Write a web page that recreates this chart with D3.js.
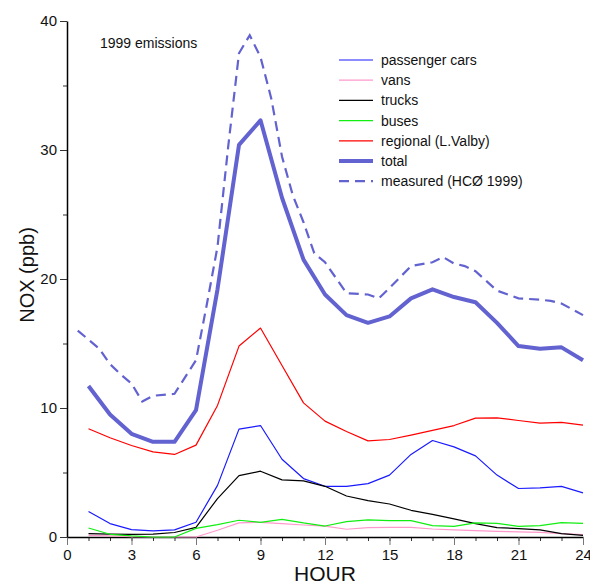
<!DOCTYPE html>
<html>
<head>
<meta charset="utf-8">
<script src="https://cdn.jsdelivr.net/npm/d3@7"></script>
<style>
  body { margin: 0; background: #fff; }
  svg text { font-family: "Liberation Sans", Arial, sans-serif; fill: #111; }
</style>
</head>
<body>
<svg class="chart" width="590" height="583"></svg>
<script>
// hours 1..24 for the modelled contributions
let hours = d3.range(1, 25);
let passengerCars = [1.97, 1.04, 0.57, 0.47, 0.55, 1.14, 4.0, 8.36, 8.64, 6.03, 4.53, 3.93,
                     3.93, 4.14, 4.8, 6.4, 7.48, 6.99, 6.29, 4.8, 3.76, 3.81, 3.93, 3.42];
let vans = [0.13, 0.08, 0.03, 0.0, 0.0, 0.0, 0.52, 1.09, 1.14, 1.04, 0.93, 0.85,
            0.6, 0.73, 0.75, 0.75, 0.62, 0.55, 0.5, 0.44, 0.39, 0.36, 0.26, 0.18];
let trucks = [0.26, 0.22, 0.2, 0.22, 0.35, 0.75, 2.98, 4.76, 5.1, 4.43, 4.35, 3.93,
              3.18, 2.82, 2.56, 2.07, 1.76, 1.4, 1.04, 0.73, 0.65, 0.55, 0.26, 0.13];
let buses = [0.7, 0.21, 0.08, 0.0, 0.0, 0.67, 0.96, 1.3, 1.14, 1.37, 1.09, 0.85,
             1.19, 1.32, 1.27, 1.27, 0.88, 0.83, 1.09, 1.06, 0.83, 0.88, 1.11, 1.06];
let regional = [8.39, 7.69, 7.09, 6.6, 6.4, 7.12, 10.2, 14.8, 16.2, 13.3, 10.4, 8.98,
                8.18, 7.45, 7.56, 7.9, 8.26, 8.64, 9.21, 9.24, 9.03, 8.83, 8.88, 8.67];
let total = [11.7, 9.5, 8.0, 7.38, 7.38, 9.83, 19.2, 30.4, 32.3, 26.3, 21.5, 18.8,
             17.2, 16.6, 17.1, 18.5, 19.2, 18.6, 18.2, 16.6, 14.8, 14.6, 14.7, 13.7];

// measured series (HCØ 1999), its own time points
let measuredHours = [0.5, 1.5, 2, 2.5, 3, 3.5, 4, 5, 6, 6.5, 7, 7.5, 8, 8.5, 9, 9.5, 10, 10.5, 11, 11.5, 12,
                     13, 14, 14.5, 15, 16, 17, 17.5, 18, 18.5, 19, 20, 21, 22, 22.5, 23, 24];
let measured = [16.0, 14.6, 13.4, 12.6, 11.9, 10.5, 10.95, 11.1, 13.7, 18.0, 22.5, 30.3, 37.5, 38.9, 37.2, 34.0, 29.5, 26.5, 24.4, 22.0, 21.3,
                18.9, 18.8, 18.5, 19.3, 21.0, 21.3, 21.7, 21.2, 21.0, 20.6, 19.1, 18.5, 18.4, 18.3, 18.1, 17.2];

let xTicks = [0, 3, 6, 9, 12, 15, 18, 21, 24];
let yTicks = [0, 10, 20, 30, 40];

let series = [
  { name: "passenger cars", values: passengerCars, color: "#1a1aff", width: 1.2 },
  { name: "vans", values: vans, color: "#ff99cc", width: 1.2 },
  { name: "trucks", values: trucks, color: "#000000", width: 1.2 },
  { name: "buses", values: buses, color: "#11ee11", width: 1.2 },
  { name: "regional (L.Valby)", values: regional, color: "#ff0000", width: 1.2 },
  { name: "total", values: total, color: "#6262d0", width: 4 }
];

var svg = d3.select(".chart");
let margin = { left: 67, top: 21, right: 7, bottom: 46 };
let width = +svg.attr("width");
let height = +svg.attr("height");
let innerWidth = width - margin.left - margin.right;
let innerHeight = height - margin.top - margin.bottom;

var xScale = d3.scaleLinear().domain([0, 24]).range([0, innerWidth]);
var yScale = d3.scaleLinear().domain([0, 40]).range([innerHeight, 0]);

let g = svg.append("g").attr("transform", `translate(${margin.left}, ${margin.top})`);

// minor ticks
g.append("g")
 .attr("transform", `translate(0, ${innerHeight})`)
 .call(d3.axisBottom(xScale).tickValues(d3.range(0, 25)).tickSize(4).tickFormat(""))
 .call(a => a.select(".domain").remove())
 .selectAll("line").attr("stroke", "#333");
g.append("g")
 .call(d3.axisLeft(yScale).tickValues(d3.range(0, 41, 5)).tickSize(4).tickFormat(""))
 .call(a => a.select(".domain").remove())
 .selectAll("line").attr("stroke", "#333");

// major ticks + labels
var xAxis = g.append("g")
 .attr("transform", `translate(0, ${innerHeight})`)
 .call(d3.axisBottom(xScale).tickValues(xTicks).tickSize(8).tickSizeOuter(0).tickPadding(4));
var yAxis = g.append("g")
 .call(d3.axisLeft(yScale).tickValues(yTicks).tickSize(7).tickSizeOuter(0).tickPadding(3));
[xAxis, yAxis].forEach(a => {
  a.selectAll("text").attr("font-size", 15).attr("font-family", "Liberation Sans, Arial, sans-serif").attr("fill", "#111");
  a.selectAll("line").attr("stroke", "#333");
  a.select(".domain").attr("stroke", "#000").attr("stroke-width", 1.5);
});
xAxis.selectAll("line").attr("stroke", "#777");

var line = d3.line()
  .x((d, i) => xScale(hours[i]))
  .y(d => yScale(d));

series.forEach(s => {
  g.append("path")
   .datum(s.values)
   .attr("fill", "none")
   .attr("stroke", s.color)
   .attr("stroke-width", s.width)
   .attr("stroke-linejoin", "round")
   .attr("d", line);
});

g.append("path")
 .datum(measured)
 .attr("fill", "none")
 .attr("stroke", "#6262d0")
 .attr("stroke-width", 2.2)
 .attr("stroke-dasharray", "10,6")
 .attr("d", d3.line().x((d, i) => xScale(measuredHours[i])).y(d => yScale(d)));

// legend
let legend = series.concat([{ name: "measured (HCØ 1999)", color: "#6262d0", width: 2.2, dash: "10,6" }]);
let legendX = 339 - margin.left;
let legendY = 60 - margin.top;
legend.forEach((s, i) => {
  let y = legendY + i * 20.2;
  g.append("line")
   .attr("x1", legendX).attr("x2", legendX + 34)
   .attr("y1", y).attr("y2", y)
   .attr("stroke", s.color)
   .attr("stroke-width", s.width)
   .attr("stroke-dasharray", s.dash || null);
  g.append("text")
   .attr("x", legendX + 42)
   .attr("y", y + 5)
   .attr("font-size", 14)
   .text(s.name);
});

g.append("text")
 .attr("x", 100 - margin.left)
 .attr("y", 48 - margin.top)
 .attr("font-size", 14)
 .text("1999 emissions");

g.append("text")
 .attr("text-anchor", "middle")
 .attr("x", innerWidth / 2)
 .attr("y", innerHeight + 44)
 .attr("font-size", 21)
 .text("HOUR");

g.append("text")
 .attr("text-anchor", "middle")
 .attr("transform", `translate(${34 - margin.left}, ${innerHeight / 2 - 4}) rotate(-90)`)
 .attr("font-size", 20)
 .text("NOX (ppb)");
</script>
</body>
</html>
